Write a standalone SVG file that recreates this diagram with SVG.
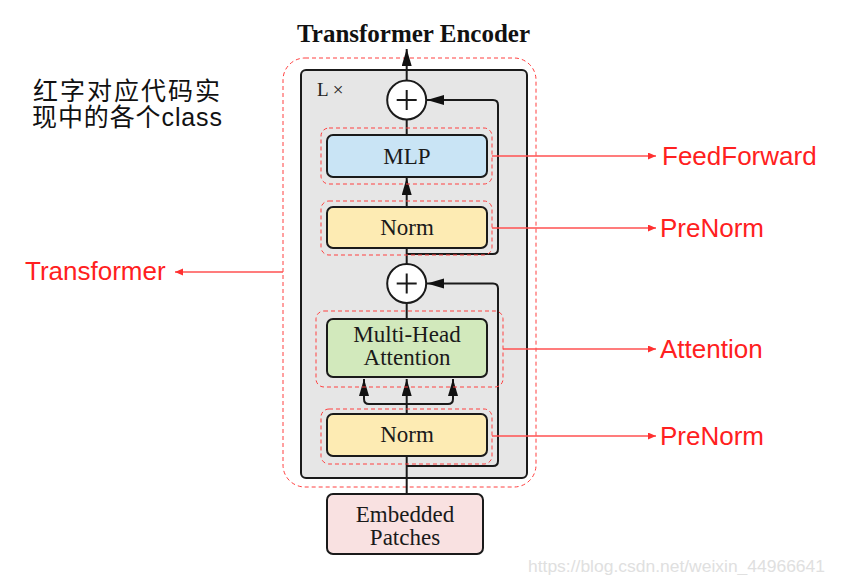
<svg xmlns="http://www.w3.org/2000/svg" width="860" height="575" viewBox="0 0 860 575">
<defs>
<marker id="ah" markerUnits="userSpaceOnUse" markerWidth="18" markerHeight="12" refX="17" refY="5" orient="auto">
<path d="M0,0 L17,5 L0,10 Z" fill="#111"/>
</marker>
<marker id="rh" markerUnits="userSpaceOnUse" markerWidth="10" markerHeight="8" refX="8" refY="3.5" orient="auto">
<path d="M0,0 L8,3.5 L0,7 Z" fill="#ff3030"/>
</marker>
</defs>
<style>
.blk{fill:none;stroke:#1a1a1a;stroke-width:2}
.node{stroke:#1a1a1a;stroke-width:2}
.dash{fill:none;stroke:#ff4040;stroke-width:1;stroke-dasharray:4 3}
.red{fill:none;stroke:#ff5050;stroke-width:1.5}
.nt{font-family:"Liberation Serif","Times New Roman",serif;font-size:23px;fill:#1a1a1a;text-anchor:middle}
.rt{font-family:"Liberation Sans",Arial,sans-serif;font-size:26px;fill:#ff2020}
</style>
<rect width="860" height="575" fill="#ffffff"/>

<text x="297" y="42" textLength="233" lengthAdjust="spacingAndGlyphs" font-family="'Liberation Serif','Times New Roman',serif" font-size="25" font-weight="bold" fill="#111">Transformer Encoder</text>

<g font-family="'Liberation Sans','Noto Sans CJK SC',sans-serif" font-size="25" fill="#111">
<text x="33" y="100" textLength="187" lengthAdjust="spacing">红字对应代码实</text>
<text x="32" y="126" textLength="190" lengthAdjust="spacing">现中的各个class</text>
</g>

<g id="transformer">
<rect x="283" y="58" width="253" height="429" rx="22" class="dash"/>
<rect x="301" y="70" width="226" height="408" rx="5" fill="#e6e6e6" stroke="#1a1a1a" stroke-width="2"/>
<text x="317" y="96" font-family="'Liberation Serif','Times New Roman',serif" font-size="19" fill="#222">L ×</text>
</g>

<g id="connectors">
<line x1="406.7" y1="80" x2="406.7" y2="49" class="blk" marker-end="url(#ah)"/>
<line x1="406.7" y1="120" x2="406.7" y2="135" class="blk"/>
<line x1="406.7" y1="207" x2="406.7" y2="178" class="blk" marker-end="url(#ah)"/>
<line x1="406.7" y1="248" x2="406.7" y2="264" class="blk"/>
<line x1="406.7" y1="303" x2="406.7" y2="319" class="blk"/>
<line x1="406.7" y1="494" x2="406.7" y2="456" class="blk"/>
<line x1="406.7" y1="414" x2="406.7" y2="379" class="blk" marker-end="url(#ah)"/>
<path d="M406.7,404 H369 Q364,404 364,399 V379" class="blk" marker-end="url(#ah)"/>
<path d="M406.7,404 H448 Q453,404 453,399 V379" class="blk" marker-end="url(#ah)"/>
<path d="M406.7,254 H493 Q498,254 498,249 V105 Q498,100 493,100 H427" class="blk" marker-end="url(#ah)"/>
<path d="M406.7,466 H493 Q498,466 498,461 V288.5 Q498,283.5 493,283.5 H427" class="blk" marker-end="url(#ah)"/>
<line x1="492" y1="156" x2="656" y2="156" class="red" marker-end="url(#rh)"/>
<line x1="492" y1="228" x2="656" y2="228" class="red" marker-end="url(#rh)"/>
<line x1="503" y1="349" x2="656" y2="349" class="red" marker-end="url(#rh)"/>
<line x1="492" y1="436" x2="656" y2="436" class="red" marker-end="url(#rh)"/>
<line x1="283" y1="272" x2="175" y2="272" class="red" marker-end="url(#rh)"/>
</g>

<g id="add1">
<circle cx="406.7" cy="100" r="19.5" fill="#fff" stroke="#1a1a1a" stroke-width="2"/>
<path d="M396.7,100 H416.7 M406.7,90 V110" stroke="#1a1a1a" stroke-width="2"/>
</g>
<g id="add2">
<circle cx="406.7" cy="283.5" r="19.5" fill="#fff" stroke="#1a1a1a" stroke-width="2"/>
<path d="M396.7,283.5 H416.7 M406.7,273.5 V293.5" stroke="#1a1a1a" stroke-width="2"/>
</g>

<g id="mlp">
<rect x="321" y="128" width="171" height="56" rx="8" class="dash"/>
<rect x="327" y="135" width="160" height="42" rx="6" fill="#c9e4f5" class="node"/>
<text x="407" y="164" class="nt">MLP</text>
</g>
<g id="norm1">
<rect x="321" y="201" width="171" height="54" rx="8" class="dash"/>
<rect x="327" y="207" width="160" height="41" rx="6" fill="#fdebb3" class="node"/>
<text x="407" y="235" class="nt">Norm</text>
</g>
<g id="attention">
<rect x="316" y="311" width="187" height="76" rx="8" class="dash"/>
<rect x="327" y="319" width="160" height="58" rx="6" fill="#d2e9bc" class="node"/>
<text x="407" y="342" class="nt">Multi-Head</text>
<text x="407" y="365" class="nt">Attention</text>
</g>
<g id="norm2">
<rect x="321" y="409" width="171" height="55" rx="8" class="dash"/>
<rect x="327" y="414" width="160" height="42" rx="6" fill="#fdebb3" class="node"/>
<text x="407" y="442" class="nt">Norm</text>
</g>
<g id="embedded">
<rect x="327" y="494" width="156" height="60" rx="6" fill="#f9e1e1" class="node"/>
<text x="405" y="522" class="nt">Embedded</text>
<text x="405" y="545" class="nt">Patches</text>
</g>

<g id="labels">
<text x="662" y="165" class="rt">FeedForward</text>
<text x="660" y="237" class="rt">PreNorm</text>
<text x="660" y="358" class="rt">Attention</text>
<text x="660" y="445" class="rt">PreNorm</text>
<text x="25" y="280" class="rt">Transformer</text>
</g>

<text x="528" y="572" textLength="297" lengthAdjust="spacingAndGlyphs" font-family="'Liberation Sans',Arial,sans-serif" font-size="17" fill="#e0e0e0">https://blog.csdn.net/weixin_44966641</text>
</svg>
